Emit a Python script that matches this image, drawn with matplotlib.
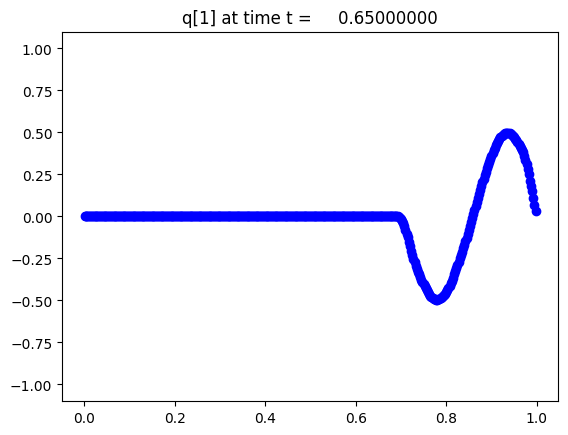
import numpy as np
import matplotlib
matplotlib.use("Agg")
import matplotlib.pyplot as plt

t = 0.65
field_name = "q[1]"

# undisturbed part of the domain: cell centres, q is zero there
x_rest = np.arange(0.001, 0.69, 0.002)
q_rest = np.zeros_like(x_rest)

x_wave_start = 0.69
x_wave_step = 0.0025
q_wave = [0.000, 0.000, -0.004, -0.008, -0.014, -0.025, -0.040, -0.058, -0.080, -0.102,
          -0.125, -0.150, -0.175, -0.203, -0.230, -0.252, -0.272, -0.292, -0.310, -0.328,
          -0.345, -0.362, -0.376, -0.390, -0.403, -0.415, -0.428, -0.440, -0.452, -0.462,
          -0.471, -0.479, -0.486, -0.491, -0.494, -0.496, -0.496, -0.494, -0.491, -0.487,
          -0.482, -0.476, -0.469, -0.460, -0.450, -0.440, -0.428, -0.413, -0.398, -0.382,
          -0.365, -0.345, -0.325, -0.305, -0.287, -0.268, -0.250, -0.230, -0.210, -0.188,
          -0.168, -0.148, -0.126, -0.104, -0.082, -0.058, -0.034, -0.010, 0.014, 0.038,
          0.062, 0.086, 0.110, 0.134, 0.157, 0.180, 0.203, 0.225, 0.246, 0.266,
          0.286, 0.305, 0.324, 0.342, 0.360, 0.377, 0.394, 0.410, 0.425, 0.440,
          0.452, 0.463, 0.472, 0.480, 0.486, 0.491, 0.494, 0.496, 0.497, 0.497,
          0.495, 0.492, 0.487, 0.481, 0.473, 0.464, 0.455, 0.445, 0.434, 0.422,
          0.410, 0.398, 0.384, 0.360, 0.335, 0.310, 0.280, 0.250, 0.214, 0.180,
          0.150, 0.110, 0.070, 0.030]
x_wave = x_wave_start + x_wave_step * np.arange(len(q_wave))

x = np.concatenate([x_rest, x_wave])
q = np.concatenate([q_rest, q_wave])

fig = plt.figure(figsize=(6.4, 4.8), dpi=100)
plt.plot(x, q, 'bo')
plt.ylim(-1.1, 1.1)
plt.title("%s at time t = %14.8f" % (field_name, t))
plt.savefig("out.png", bbox_inches="tight")
plt.close()
